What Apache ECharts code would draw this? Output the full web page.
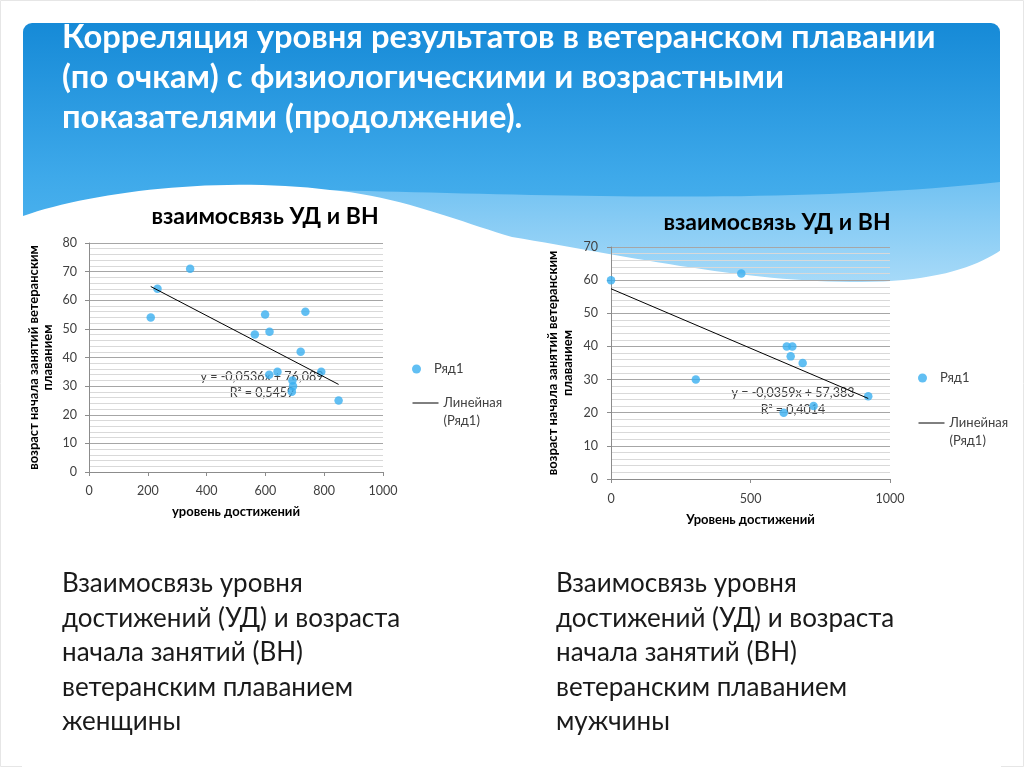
<!DOCTYPE html>
<html><head><meta charset="utf-8">
<script src="https://cdn.jsdelivr.net/npm/echarts@6/dist/echarts.min.js"></script>
<style>html,body{margin:0;padding:0;background:#fff}#c{width:1024px;height:767px}</style>
</head><body><div id="c"></div>
<script>
// ---- data ----
const womenX = [210, 233, 344, 564, 599, 614, 736, 720, 613, 641, 790, 692, 694, 690, 849];
const womenY = [54, 64, 71, 48, 55, 49, 56, 42, 34, 35, 35, 32, 30, 28, 25];
const womenTrendX = [210, 849];
const womenTrendY = [64.8, 30.6];
const menX = [0, 467, 304, 630, 650, 644, 687, 619, 726, 922];
const menY = [60, 62, 30, 40, 40, 37, 35, 20, 22, 25];
const menTrendX = [0, 922];
const menTrendY = [57.4, 24.3];
const leftXTicks = [0, 200, 400, 600, 800, 1000];
const leftYTicks = [0, 10, 20, 30, 40, 50, 60, 70, 80];
const rightXTicks = [0, 500, 1000];
const rightYTicks = [0, 10, 20, 30, 40, 50, 60, 70];
const leftEquation = ['y = -0,0536x + 76,089', 'R² = 0,5459'];
const rightEquation = ['y = -0,0359x + 57,383', 'R² = 0,4014'];
const slideTitle = ['Корреляция уровня результатов в ветеранском плавании', '(по очкам) с физиологическими и возрастными', 'показателями (продолжение).'];
const chartTitle = 'взаимосвязь УД и ВН';
const leftCaption = ['Взаимосвязь уровня', 'достижений (УД) и возраста', 'начала занятий (ВН)', 'ветеранским плаванием', 'женщины'];
const rightCaption = ['Взаимосвязь уровня', 'достижений (УД) и возраста', 'начала занятий (ВН)', 'ветеранским плаванием', 'мужчины'];
const yName = 'возраст начала занятий ветеранским\nплаванием';
const pointName = 'Ряд1';
const lineName = 'Линейная (Ряд1)';

const zip = (a, b) => a.map((v, i) => [v, b[i]]);
const FONT = 'Lato';
const DOT = '#3aaff0';

function bez(p0, p1, p2, p3, n) {
  const pts = [];
  for (let i = 0; i <= n; i++) {
    const t = i / n, u = 1 - t;
    pts.push([
      u*u*u*p0[0] + 3*u*u*t*p1[0] + 3*u*t*t*p2[0] + t*t*t*p3[0],
      u*u*u*p0[1] + 3*u*u*t*p1[1] + 3*u*t*t*p2[1] + t*t*t*p3[1]
    ]);
  }
  return pts;
}
const bandPts = bez([320,190],[520,194],[780,206],[1000,182],40).concat([[1000,300],[320,300]]);
const whitePts = [].concat(
  bez([23,216],[90,192],[220,176],[330,190],30),
  bez([330,190],[400,196],[460,222],[512,237],20),
  bez([512,237],[620,255],[740,281],[850,282],30),
  bez([850,282],[930,283],[975,268],[1001,250],20),
  [[1001,767],[22,767]]
);

function axisPair(gi, xt, yt, xNameGap, yNameGap, yLineH, xName, xLabMargin, yLabMargin) {
  const x = {
    type: 'value', gridIndex: gi, min: xt[0], max: xt[xt.length-1], interval: xt[1]-xt[0],
    name: xName, nameLocation: 'middle', nameGap: xNameGap,
    nameTextStyle: {fontFamily: FONT, fontWeight: 'bold', fontSize: 13, color: '#000'},
    axisLine: {show: true, lineStyle: {color: '#8c8c8c'}},
    axisTick: {show: true, length: 4, lineStyle: {color: '#8c8c8c'}},
    axisLabel: {fontFamily: FONT, fontSize: 12.5, color: '#404040', margin: xLabMargin, formatter: v => String(v)},
    splitLine: {show: false}
  };
  const y = {
    type: 'value', gridIndex: gi, min: yt[0], max: yt[yt.length-1], interval: yt[1]-yt[0],
    name: yName, nameLocation: 'middle', nameGap: yNameGap, nameRotate: 90,
    nameTextStyle: {fontFamily: FONT, fontWeight: 'bold', fontSize: 13, color: '#000', lineHeight: yLineH},
    axisLine: {show: true, lineStyle: {color: '#8c8c8c'}},
    axisTick: {show: true, length: 4, lineStyle: {color: '#8c8c8c'}},
    axisLabel: {fontFamily: FONT, fontSize: 12.5, color: '#404040', margin: yLabMargin, formatter: v => String(v)},
    splitLine: {show: true, lineStyle: {color: '#a6a6a6'}},
    minorTick: {show: false, splitNumber: 5},
    minorSplitLine: {show: true, lineStyle: {color: '#d9d9d9'}}
  };
  return [x, y];
}
const [lx, ly] = axisPair(0, leftXTicks, leftYTicks, 33, 34, 14, 'уровень достижений', 12, 12);
const [rx, ry] = axisPair(1, rightXTicks, rightYTicks, 34, 36, 15, 'Уровень достижений', 13, 13);

const legendText = {fontFamily: FONT, fontSize: 13, color: '#404040'};
function dotLegend(left, top) {
  return {data: [pointName], left, top, padding: 0, orient: 'vertical', itemWidth: 25, itemHeight: 9,
    textStyle: Object.assign({lineHeight: 14}, legendText), selectedMode: false};
}
function lineLegend(left, top) {
  return {data: [lineName], left, top, padding: 0, orient: 'vertical', itemWidth: 26, itemHeight: 14,
    formatter: () => '\nЛинейная\n(Ряд1)', selectedMode: false,
    itemStyle: {opacity: 0, color: 'rgba(0,0,0,0)', borderWidth: 0},
    lineStyle: {color: '#000', width: 1},
    textStyle: Object.assign({lineHeight: 18}, legendText)};
}

function textEl(x, y, text, font, fill, align, lineHeight) {
  return {type: 'text', x, y, silent: true,
    style: {text, font, fill, align: align || 'left', verticalAlign: 'middle', lineHeight}};
}

const graphics = [
  {type: 'rect', z: -20, silent: true, shape: {x: 0.5, y: 0.5, width: 1023, height: 766}, style: {fill: '#fff', stroke: '#e6e6e6'}},
  {type: 'rect', z: -19, silent: true, shape: {x: 23, y: 23, width: 977, height: 280, r: [9, 9, 0, 0]},
    style: {fill: new echarts.graphic.LinearGradient(0, 0, 0, 1, [
      {offset: 0, color: '#168ad7'}, {offset: 0.55, color: '#3ea9ea'}, {offset: 1, color: '#5cbdf2'}])}},
  {type: 'polygon', z: -18, silent: true, shape: {points: bandPts},
    style: {fill: new echarts.graphic.LinearGradient(0, 0, 0, 1, [
      {offset: 0, color: '#72c2f2'}, {offset: 1, color: '#b0def9'}])}},
  {type: 'polygon', z: -17, silent: true, shape: {points: whitePts}, style: {fill: '#fff'}},
  {type: 'text', x: 62, y: 17, silent: true,
    style: {text: slideTitle.join('\n'), font: 'bold 32.7px ' + FONT, fill: '#fff', verticalAlign: 'top', lineHeight: 40}}
];
leftCaption.forEach((t, i) => graphics.push(textEl(62, 584 + i * 34.5, t, '26px ' + FONT, '#1a1a1a')));
rightCaption.forEach((t, i) => graphics.push(textEl(556, 584 + i * 34.5, t, '26px ' + FONT, '#1a1a1a')));
graphics.push(textEl(262, 377, leftEquation[0], '12.5px ' + FONT, '#404040', 'center'));
graphics.push(textEl(262, 393, leftEquation[1], '12.5px ' + FONT, '#404040', 'center'));
graphics.push(textEl(793, 393, rightEquation[0], '12.5px ' + FONT, '#404040', 'center'));
graphics.push(textEl(793, 410, rightEquation[1], '12.5px ' + FONT, '#404040', 'center'));

const chart = echarts.init(document.getElementById('c'));
chart.setOption({
  animation: false,
  backgroundColor: 'transparent',
  title: [
    {text: chartTitle, left: 260, top: 200, textAlign: 'center',
      textStyle: {fontFamily: FONT, fontWeight: 'bold', fontSize: 23, color: '#000'}},
    {text: chartTitle, left: 772, top: 206, textAlign: 'center',
      textStyle: {fontFamily: FONT, fontWeight: 'bold', fontSize: 23, color: '#000'}}
  ],
  legend: [dotLegend(412, 362), lineLegend(412, 376), dotLegend(918, 371), lineLegend(918, 396)],
  grid: [
    {left: 89, top: 243, width: 294, height: 229},
    {left: 611, top: 247, width: 279, height: 232}
  ],
  xAxis: [lx, rx],
  yAxis: [ly, ry],
  series: [
    {name: pointName, type: 'scatter', xAxisIndex: 0, yAxisIndex: 0, symbolSize: 8.5,
      itemStyle: {color: DOT}, data: zip(womenX, womenY), z: 3},
    {name: lineName, type: 'line', xAxisIndex: 0, yAxisIndex: 0, symbol: 'none',
      itemStyle: {color: 'rgba(0,0,0,0)'},
      lineStyle: {color: '#000', width: 1}, data: zip(womenTrendX, womenTrendY), z: 4},
    {name: pointName, type: 'scatter', xAxisIndex: 1, yAxisIndex: 1, symbolSize: 8.5,
      itemStyle: {color: DOT}, data: zip(menX, menY), z: 3},
    {name: lineName, type: 'line', xAxisIndex: 1, yAxisIndex: 1, symbol: 'none',
      itemStyle: {color: 'rgba(0,0,0,0)'},
      lineStyle: {color: '#000', width: 1}, data: zip(menTrendX, menTrendY), z: 4}
  ],
  graphic: {elements: graphics}
});
</script></body></html>
